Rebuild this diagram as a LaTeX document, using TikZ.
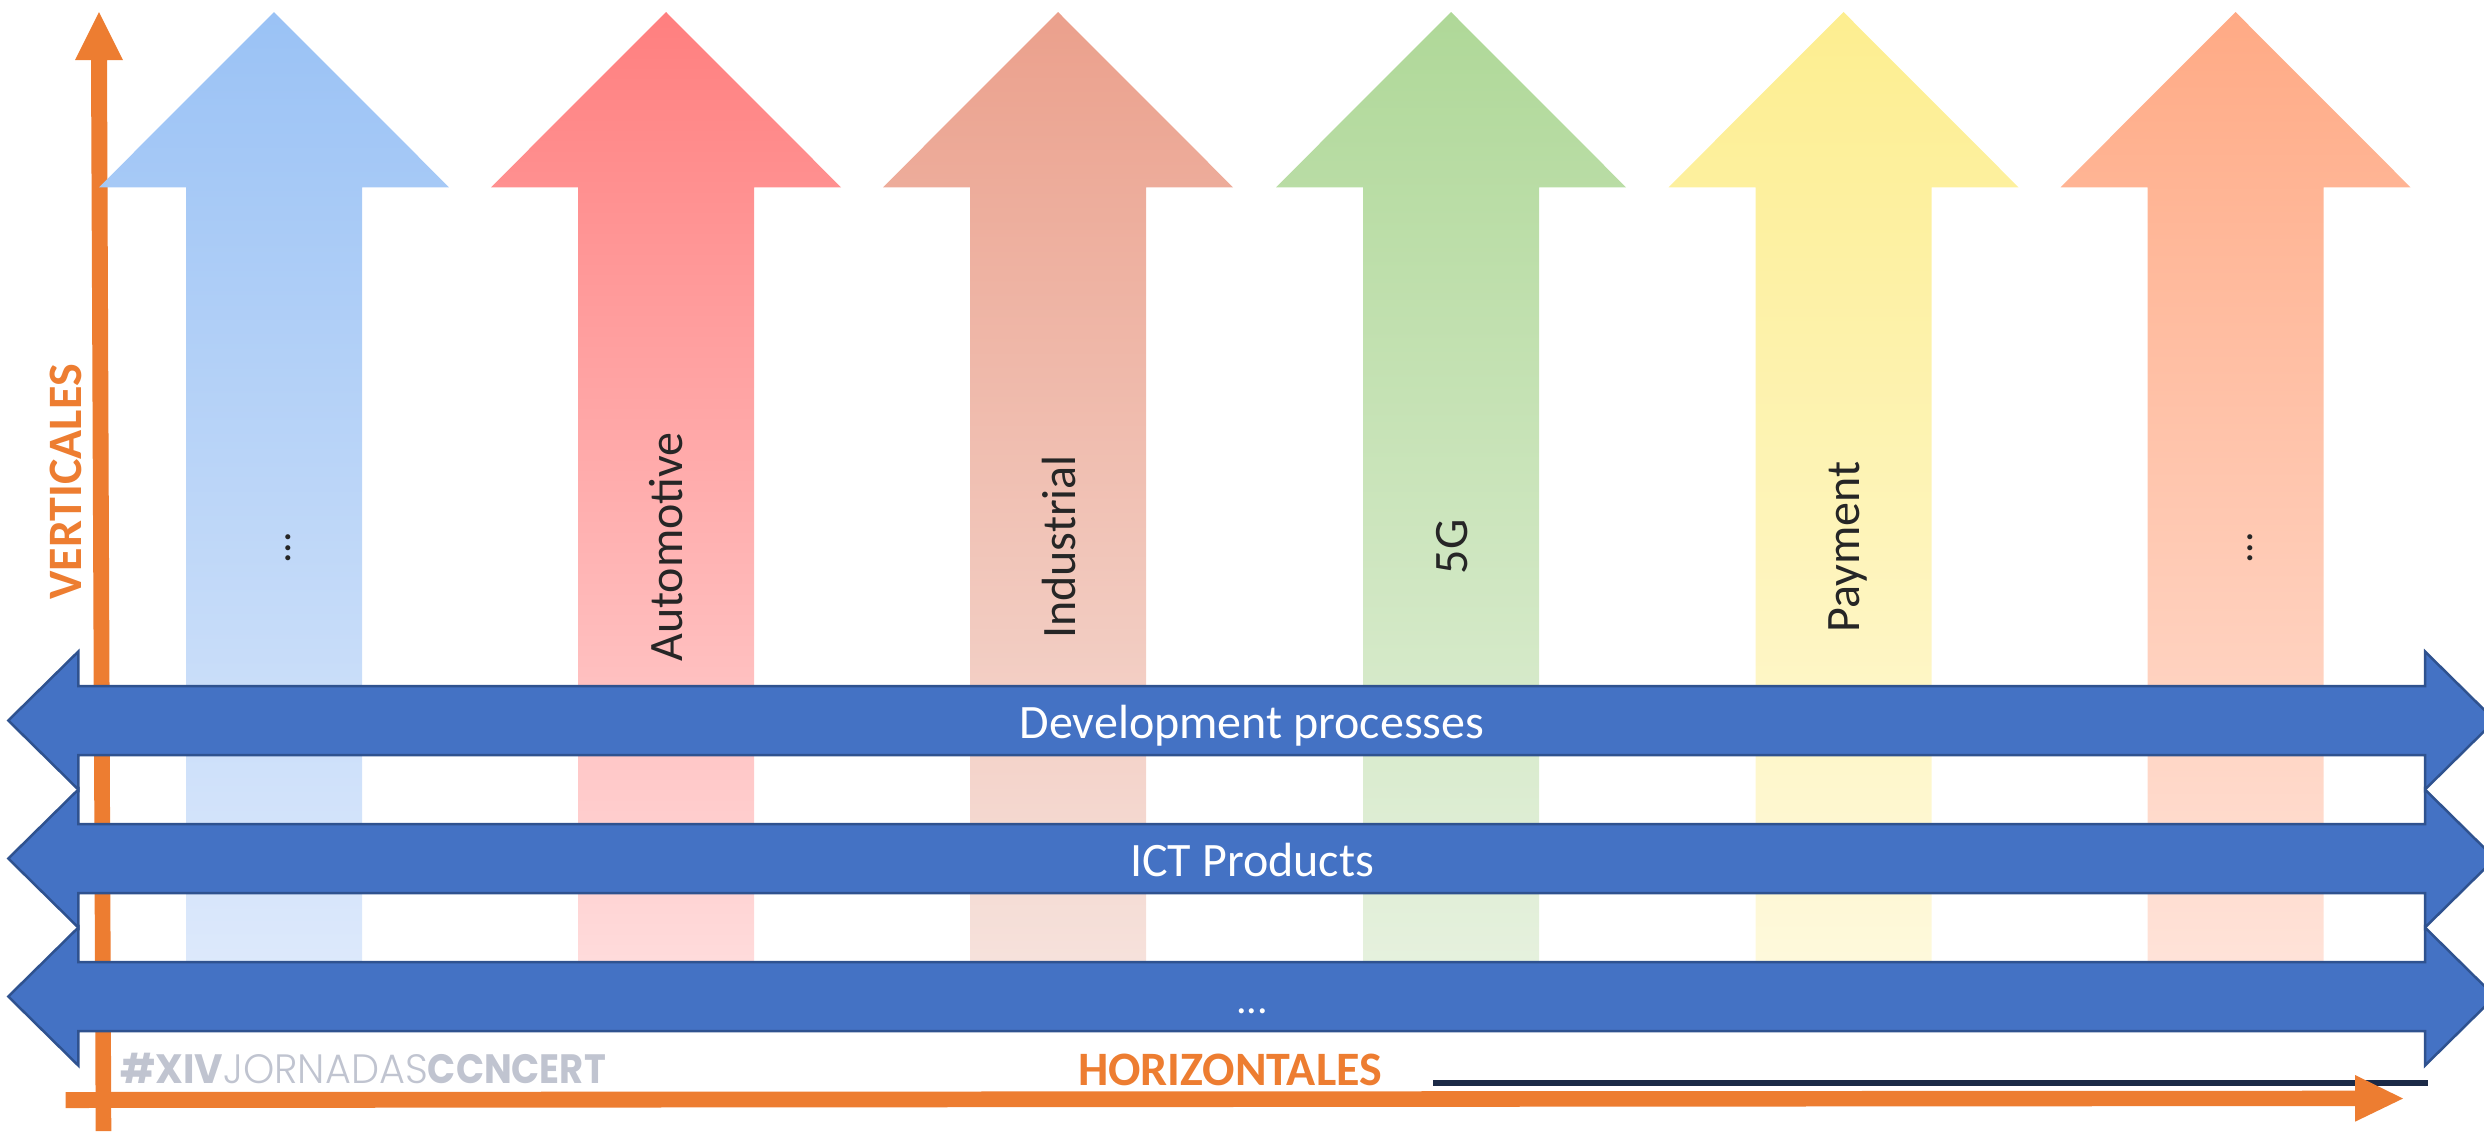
\documentclass[tikz,border=0pt]{standalone}
\usepackage{fontspec}
\setmainfont{Carlito}
\newfontfamily\logofont{Poppins}[BoldFont={Poppins Bold}]
\newfontfamily\logolight{Poppins Light}
\definecolor{barfill}{HTML}{4472C4}
\definecolor{barline}{HTML}{2F528F}
\definecolor{axisorange}{HTML}{ED7D31}
\definecolor{labeldark}{HTML}{262626}
\definecolor{logogrey}{HTML}{C0C4D0}
\definecolor{ruledark}{HTML}{1B2A47}
\definecolor{blueT}{HTML}{9AC2F5}\definecolor{blueB}{HTML}{DDE9FB}
\definecolor{redT}{HTML}{FF7F7F}\definecolor{redB}{HTML}{FFDCDC}
\definecolor{salmonT}{HTML}{EBA08C}\definecolor{salmonB}{HTML}{F6E2DC}
\definecolor{greenT}{HTML}{AFD898}\definecolor{greenB}{HTML}{E6F1DE}
\definecolor{yellowT}{HTML}{FDEE90}\definecolor{yellowB}{HTML}{FEF9DC}
\definecolor{orangeT}{HTML}{FFAA85}\definecolor{orangeB}{HTML}{FFE3D9}
\tikzset{
  vlabel/.style={rotate=90,anchor=base,inner sep=0pt,text=labeldark,font=\fontsize{24}{28}\selectfont},
  hlabel/.style={anchor=base,inner sep=0pt,text=white,font=\fontsize{24}{28}\selectfont},
  axislabel/.style={anchor=base,inner sep=0pt,text=axisorange,font=\fontsize{24}{28}\selectfont\bfseries},
  hbar/.style={fill=barfill,draw=barline,line width=1.25pt,miter limit=10},
}
\newcommand{\uparrowshape}[3]{%
  \path[top color=#2,bottom color=#3,draw=none]
    (#1,12) -- (#1+175,187.3) -- (#1+88,187.3) -- (#1+88,970) -- (#1-88,970)
    -- (#1-88,187.3) -- (#1-175,187.3) -- cycle;}
\newcommand{\hbarshape}[1]{%
  \path[hbar] (8.3,#1) -- (78.3,#1-69) -- (78.3,#1-34.5) -- (2425,#1-34.5) -- (2425,#1-69)
    -- (2495,#1) -- (2425,#1+69) -- (2425,#1+34.5) -- (78.3,#1+34.5) -- (78.3,#1+69) -- cycle;}
\begin{document}
\begin{tikzpicture}[x=0.5pt,y=-0.5pt]
\useasboundingbox (0,0) rectangle (2484,1131);
\begin{scope}
\clip (0,0) rectangle (2484,1131);
% vertical axis
\fill[axisorange] (99,12) -- (123,60) -- (107,60) -- (111.3,1131) -- (95.7,1131) -- (91,60) -- (75,60) -- cycle;
% vertical columns
\uparrowshape{274}{blueT}{blueB}
\uparrowshape{666}{redT}{redB}
\uparrowshape{1058}{salmonT}{salmonB}
\uparrowshape{1451}{greenT}{greenB}
\uparrowshape{1843.5}{yellowT}{yellowB}
\uparrowshape{2235.5}{orangeT}{orangeB}
% labels on the columns
\node[vlabel,font=\fontsize{21}{24}\selectfont] (dotsA) at (290,548) {...};
\node[vlabel] (auto) at (682,547) {Automotive};
\node[vlabel] (indus) at (1075,547) {Industrial};
\node[vlabel] (fiveg) at (1467,547) {5G};
\node[vlabel] (pay) at (1859,547) {Payment};
\node[vlabel,font=\fontsize{21}{24}\selectfont] (dotsB) at (2252,548) {...};
% horizontal bars
\hbarshape{720.5}
\hbarshape{858.5}
\hbarshape{996.5}
\node[hlabel] (dev) at (1252,738) {Development processes};
\node[hlabel] (ict) at (1252,876) {ICT Products};
\node[hlabel,font=\fontsize{21}{24}\selectfont] (dotsC) at (1252,1013) {...};
% footer
\fill[ruledark] (1433,1080) rectangle (2428,1086);
\fill[axisorange] (65.7,1092) -- (2355,1090.7) -- (2355,1075) -- (2403,1098.5) -- (2355,1121.7) -- (2355,1106) -- (65.7,1108) -- cycle;
\node[anchor=base west,inner sep=0pt,text=logogrey,font=\fontsize{20.5}{24}\selectfont] (logo) at (120,1083) {\logofont\scalebox{0.95}[1]{\textbf{\#XIV}}\logolight\scalebox{0.97}[1]{JORNADAS}\logofont\scalebox{0.9}[1]{\textbf{CCNCERT}}};
\node[axislabel,rotate=90] (vert) at (81.6,482) {VERTICALES};
\node[axislabel] (horiz) at (1230,1085) {HORIZONTALES};
\end{scope}
\end{tikzpicture}
\end{document}
